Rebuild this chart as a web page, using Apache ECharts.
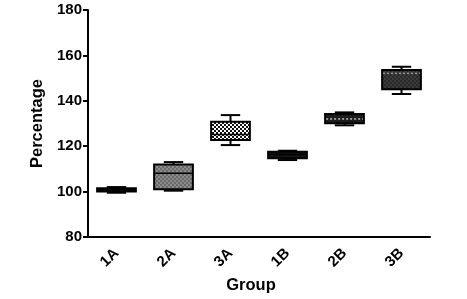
<!DOCTYPE html>
<html>
<head>
<meta charset="utf-8">
<script src="https://cdn.jsdelivr.net/npm/echarts@6/dist/echarts.min.js"></script>
<style>
html,body{margin:0;padding:0;background:#fff;}
#c{width:467px;height:299px;}
</style>
</head>
<body>
<div id="c"></div>
<script>
var categories = ['1A', '2A', '3A', '1B', '2B', '3B'];
var mins    = [99.5, 100.4, 120.5, 113.9, 129.2, 143.0];
var q1s     = [100.0, 101.0, 122.7, 114.7, 130.1, 145.1];
var medians = [100.8, 108.1, 125.2, 116.3, 132.0, 152.1];
var q3s     = [101.5, 111.9, 130.8, 117.6, 134.2, 153.6];
var maxs    = [102.0, 113.0, 133.7, 118.0, 134.9, 155.0];
var yTicks = { min: 80, max: 180, interval: 20 };

function checker(bg, fg, cell) {
  var cv = document.createElement('canvas');
  cv.width = cell * 2; cv.height = cell * 2;
  var ctx = cv.getContext('2d');
  ctx.fillStyle = bg; ctx.fillRect(0, 0, cell * 2, cell * 2);
  ctx.fillStyle = fg;
  ctx.fillRect(0, 0, cell, cell);
  ctx.fillRect(cell, cell, cell, cell);
  return { image: cv, repeat: 'repeat' };
}
var fills = [
  '#151515',
  checker('#8a8a8a', '#6a6a6a', 2),
  checker('#ffffff', '#111111', 2),
  '#151515',
  '#1c1c1c',
  checker('#3a3a3a', '#2a2a2a', 2)
];
var medianColors = ['#000', '#000', '#000', '#000', '#bbbbbb', '#999999'];

var data = categories.map(function (c, i) {
  return [i, mins[i], q1s[i], medians[i], q3s[i], maxs[i]];
});

var chart = echarts.init(document.getElementById('c'), null, { renderer: 'canvas' });
var font = '"Liberation Sans", Arial, sans-serif';
chart.setOption({
  animation: false,
  backgroundColor: '#fff',
  grid: { left: 88, right: 37, top: 10, bottom: 62 },
  xAxis: {
    type: 'category',
    data: categories,
    name: 'Group',
    nameLocation: 'middle',
    nameGap: 40,
    nameTextStyle: { fontFamily: font, fontWeight: 'bold', fontSize: 16.5, color: '#000', padding: [0, 16, 0, 0] },
    axisLine: { lineStyle: { color: '#000', width: 2 } },
    axisTick: { alignWithLabel: true, length: 5, lineStyle: { color: '#000', width: 2 } },
    axisLabel: { rotate: 45, margin: 14, fontFamily: font, fontWeight: 'bold', fontSize: 15, color: '#000' },
    splitLine: { show: false }
  },
  yAxis: {
    type: 'value',
    min: yTicks.min, max: yTicks.max, interval: yTicks.interval,
    name: 'Percentage',
    nameLocation: 'middle',
    nameGap: 36,
    nameTextStyle: { fontFamily: font, fontWeight: 'bold', fontSize: 16.5, color: '#000' },
    axisLine: { show: true, lineStyle: { color: '#000', width: 2 } },
    axisTick: { show: true, length: 5, lineStyle: { color: '#000', width: 2 } },
    axisLabel: { margin: 6, fontFamily: font, fontWeight: 'bold', fontSize: 15, color: '#000' },
    splitLine: { show: false }
  },
  series: [{
    type: 'custom',
    data: data,
    encode: { x: 0, y: [1, 2, 3, 4, 5] },
    renderItem: function (params, api) {
      var i = api.value(0);
      var bw = api.size([1, 0])[0] * 0.68;
      var cx = api.coord([i, 0])[0];
      var yMin = api.coord([i, api.value(1)])[1];
      var yQ1 = api.coord([i, api.value(2)])[1];
      var yMed = api.coord([i, api.value(3)])[1];
      var yQ3 = api.coord([i, api.value(4)])[1];
      var yMax = api.coord([i, api.value(5)])[1];
      var cap = bw / 2;
      var ls = { stroke: '#000', lineWidth: 2 };
      return {
        type: 'group',
        children: [
          { type: 'line', shape: { x1: cx, y1: yMax, x2: cx, y2: yQ3 }, style: ls },
          { type: 'line', shape: { x1: cx, y1: yQ1, x2: cx, y2: yMin }, style: ls },
          { type: 'line', shape: { x1: cx - cap / 2, y1: yMax, x2: cx + cap / 2, y2: yMax }, style: ls },
          { type: 'line', shape: { x1: cx - cap / 2, y1: yMin, x2: cx + cap / 2, y2: yMin }, style: ls },
          { type: 'rect', shape: { x: cx - bw / 2, y: yQ3, width: bw, height: Math.max(yQ1 - yQ3, 1) },
            style: { fill: fills[i], stroke: '#000', lineWidth: 2 } },
          { type: 'line', shape: { x1: cx - bw / 2 + 1, y1: yMed, x2: cx + bw / 2 - 1, y2: yMed },
            style: { stroke: medianColors[i], lineWidth: 1.5, lineDash: i >= 4 ? [2, 2] : null } }
        ]
      };
    }
  }]
});
</script>
</body>
</html>
